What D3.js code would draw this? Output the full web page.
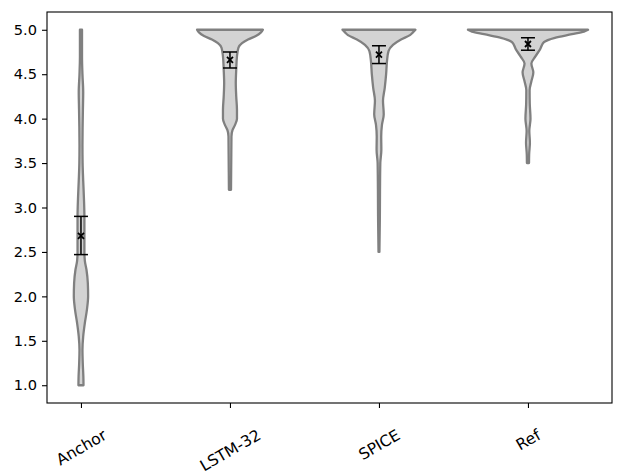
<!DOCTYPE html>
<html>
<head>
<meta charset="utf-8">
<script src="https://cdn.jsdelivr.net/npm/d3@7"></script>
<style>
  html, body { margin: 0; padding: 0; background: #fff; }
  svg { display: block; font-family: "DejaVu Sans", sans-serif; }
</style>
</head>
<body>
<svg id="chart" width="624" height="474"></svg>
<script>
// categories and summary values (mean with error bar ends)
const categories = ['Anchor', 'LSTM-32', 'SPICE', 'Ref'];
const positions = [1, 2, 3, 4];
const means = [2.68, 4.66, 4.72, 4.84];
const errLow = [2.47, 4.57, 4.62, 4.77];
const errHigh = [2.90, 4.75, 4.82, 4.91];
const yTicks = [1.0, 1.5, 2.0, 2.5, 3.0, 3.5, 4.0, 4.5, 5.0];

// violin outlines: [score, half width in x units]
const anchorProfile = [
  [5.0, 0.007], [4.7, 0.007], [4.5, 0.010], [4.3, 0.015], [4.1, 0.013],
  [3.9, 0.011], [3.7, 0.010], [3.5, 0.011], [3.3, 0.015], [3.1, 0.020],
  [2.9, 0.023], [2.7, 0.023], [2.5, 0.023], [2.4, 0.026], [2.3, 0.037],
  [2.15, 0.046], [2.0, 0.048], [1.85, 0.040], [1.7, 0.026], [1.55, 0.015],
  [1.4, 0.010], [1.25, 0.012], [1.1, 0.016], [1.0, 0.017],
];
const lstmProfile = [
  [5.0, 0.221], [4.97, 0.208], [4.93, 0.174], [4.89, 0.121], [4.85, 0.081],
  [4.80, 0.057], [4.7, 0.047], [4.55, 0.042], [4.4, 0.039], [4.25, 0.042],
  [4.1, 0.047], [4.0, 0.047], [3.93, 0.034], [3.87, 0.017], [3.8, 0.010],
  [3.6, 0.009], [3.4, 0.008], [3.2, 0.007],
];
const spiceProfile = [
  [5.0, 0.245], [4.97, 0.228], [4.94, 0.208], [4.89, 0.148], [4.83, 0.094],
  [4.76, 0.064], [4.65, 0.054], [4.5, 0.048], [4.35, 0.039], [4.2, 0.027],
  [4.05, 0.032], [3.93, 0.020], [3.8, 0.015], [3.65, 0.016], [3.5, 0.009],
  [3.2, 0.007], [2.9, 0.006], [2.5, 0.003],
];
const refProfile = [
  [5.0, 0.403], [4.98, 0.376], [4.95, 0.295], [4.91, 0.181], [4.86, 0.107],
  [4.78, 0.081], [4.70, 0.050], [4.62, 0.023], [4.52, 0.036], [4.42, 0.023],
  [4.32, 0.011], [4.17, 0.012], [4.0, 0.017], [3.86, 0.009], [3.73, 0.013],
  [3.6, 0.008], [3.5, 0.007],
];
const profiles = [anchorProfile, lstmProfile, spiceProfile, refProfile];

const svg = d3.select('#chart');
const margin = { left: 47, right: 612, top: 12, bottom: 403 };
const fontSize = 14.6;
const xFontSize = 15.6;

const x = d3.scaleLinear()
  .domain([0.772, 4.564])
  .range([margin.left, margin.right]);
const y = d3.scaleLinear()
  .domain([0.8, 5.2])
  .range([margin.bottom, margin.top]);

// violins
const plot = svg.append('g');
profiles.forEach((profile, i) => {
  const pos = positions[i];
  const area = d3.area()
    .curve(d3.curveMonotoneY)
    .y(d => y(d[0]))
    .x0(d => x(pos - d[1]))
    .x1(d => x(pos + d[1]));
  plot.append('path')
    .datum(profile.slice().sort((a, b) => a[0] - b[0]))
    .attr('d', area)
    .attr('fill', '#d3d3d3')
    .attr('stroke', '#808080')
    .attr('stroke-width', 2.3)
    .attr('stroke-linejoin', 'round');
});

// error bars and means
const capHalf = 7;
positions.forEach((pos, i) => {
  const cx = x(pos);
  const g = plot.append('g')
    .attr('stroke', '#000')
    .attr('stroke-width', 1.5);
  g.append('line')
    .attr('x1', cx).attr('x2', cx)
    .attr('y1', y(errLow[i])).attr('y2', y(errHigh[i]));
  [errLow[i], errHigh[i]].forEach((v) => {
    g.append('line')
      .attr('x1', cx - capHalf).attr('x2', cx + capHalf)
      .attr('y1', y(v)).attr('y2', y(v));
  });
  const my = y(means[i]);
  const s = 3;
  g.append('path')
    .attr('stroke-width', 1.8)
    .attr('d', `M${cx - s},${my - s}L${cx + s},${my + s}M${cx - s},${my + s}L${cx + s},${my - s}`);
});

// y axis
const yAxis = svg.append('g')
  .attr('transform', `translate(${margin.left},0)`)
  .call(d3.axisLeft(y).tickValues(yTicks).tickFormat(d3.format('.1f'))
    .tickSize(5).tickPadding(5));
yAxis.select('.domain').remove();
yAxis.selectAll('.tick line').attr('stroke', '#000').attr('stroke-width', 1.1);
yAxis.selectAll('.tick text')
  .attr('font-size', fontSize)
  .attr('font-family', 'DejaVu Sans')
  .attr('fill', '#000');

// x axis ticks, labels rotated 30 degrees
const xAxis = svg.append('g')
  .attr('transform', `translate(0,${margin.bottom})`)
  .call(d3.axisBottom(x).tickValues(positions).tickFormat((d, i) => categories[i])
    .tickSize(5).tickPadding(5));
xAxis.select('.domain').remove();
xAxis.selectAll('.tick line').attr('stroke', '#000').attr('stroke-width', 1.1);
const lineH = 1.164 * xFontSize;
const labelTop = 23;
xAxis.selectAll('.tick text')
  .attr('font-size', xFontSize)
  .attr('font-family', 'DejaVu Sans')
  .attr('fill', '#000')
  .attr('text-anchor', 'middle')
  .attr('dy', null)
  .attr('dominant-baseline', 'central')
  .attr('y', 0)
  .each(function () {
    const w = this.getComputedTextLength();
    const cy = labelTop + (0.5 * w + 0.866 * lineH) / 2;
    d3.select(this).attr('transform', `translate(0,${cy}) rotate(-30)`);
  });

// frame
svg.append('rect')
  .attr('x', margin.left)
  .attr('y', margin.top)
  .attr('width', margin.right - margin.left)
  .attr('height', margin.bottom - margin.top)
  .attr('fill', 'none')
  .attr('stroke', '#000')
  .attr('stroke-width', 1.1);
</script>
</body>
</html>
